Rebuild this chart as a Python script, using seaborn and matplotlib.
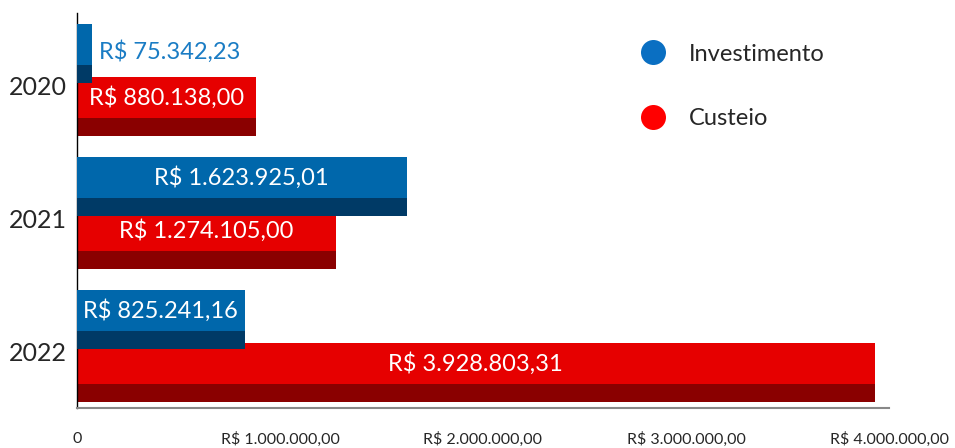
import pandas as pd
import seaborn as sns
import matplotlib.pyplot as plt
import matplotlib.transforms as mtransforms
from matplotlib.patches import Rectangle
from matplotlib.lines import Line2D
from matplotlib.ticker import FuncFormatter

# valores por ano
anos = ["2020", "2021", "2022"]
investimento = [75342.23, 1623925.01, 825241.16]
custeio = [880138.00, 1274105.00, 3928803.31]
series = ["Investimento", "Custeio"]
x_ticks = [0, 1000000, 2000000, 3000000, 4000000]

cores = {"Investimento": "#0067ab", "Custeio": "#e60000"}
cores_escuras = {"Investimento": "#003a66", "Custeio": "#8a0000"}
cores_legenda = {"Investimento": "#0a6fc2", "Custeio": "#ff0000"}


def brl(v):
    s = f"{v:,.2f}"
    return "R$ " + s.replace(",", "X").replace(".", ",").replace("X", ".")


df = pd.DataFrame({"ano": anos, "Investimento": investimento, "Custeio": custeio})
df = df.melt(id_vars="ano", var_name="tipo", value_name="valor")

sns.set_style("white")
plt.rcParams["font.family"] = ["Lato", "DejaVu Sans"]

fig = plt.figure(figsize=(9.55, 4.48), dpi=100)
ax = fig.add_axes([0.0806, 0.089, 0.8503, 0.882])

sns.barplot(data=df, x="valor", y="ano", hue="tipo", hue_order=series,
            order=anos, orient="h", palette=cores, saturation=1,
            legend=False, linewidth=0, ax=ax)

altura = 0.44
for nome, cont, zo in zip(series, ax.containers, [3, 2]):
    for bar in cont:
        centro = bar.get_y() + bar.get_height() / 2
        y0 = centro - altura / 2
        bar.set_y(y0)
        bar.set_height(altura)
        bar.set_zorder(zo)
        bar.set_linewidth(0)
        w = bar.get_width()
        ax.add_patch(Rectangle((0, y0 + altura * 0.7), w, altura * 0.3,
                               color=cores_escuras[nome], lw=0, zorder=zo))
        ytxt = y0 + altura * 0.35
        if w < 300000:
            ax.text(w + 32000, ytxt + 0.05, brl(w), color="#1a7cc4",
                    fontsize=17, ha="left", va="center", zorder=5)
        else:
            ax.text(w / 2, ytxt, brl(w), color="white", fontsize=17,
                    ha="center", va="center", zorder=5)

ax.set_xlim(0, 4000000)
ax.set_ylim(2.466, -0.504)
ax.set_xticks(x_ticks)
ax.xaxis.set_major_formatter(FuncFormatter(lambda v, p: "0" if v == 0 else brl(v)))
ax.set_xlabel("")
ax.set_ylabel("")
ax.tick_params(axis="x", length=0, pad=17, labelsize=11.5)
ax.tick_params(axis="y", length=0, pad=7, labelsize=18)

desloc = mtransforms.ScaledTranslation(0, -5 / 100, fig.dpi_scale_trans)
for lbl in ax.get_yticklabels():
    lbl.set_transform(lbl.get_transform() + desloc)

for s in ["top", "right"]:
    ax.spines[s].set_visible(False)
ax.spines["left"].set_color("black")
ax.spines["left"].set_linewidth(1)
ax.spines["bottom"].set_color("#888888")
ax.spines["bottom"].set_linewidth(1.5)

handles = [Line2D([], [], marker="o", ls="", markersize=18,
                  markerfacecolor=cores_legenda[n], markeredgewidth=0)
           for n in series]
fig.legend(handles, series, loc="upper left", bbox_to_anchor=(0.637, 0.95),
           frameon=False, fontsize=17, labelspacing=1.85, handletextpad=0.5)

fig.savefig("out.png", dpi=100)
